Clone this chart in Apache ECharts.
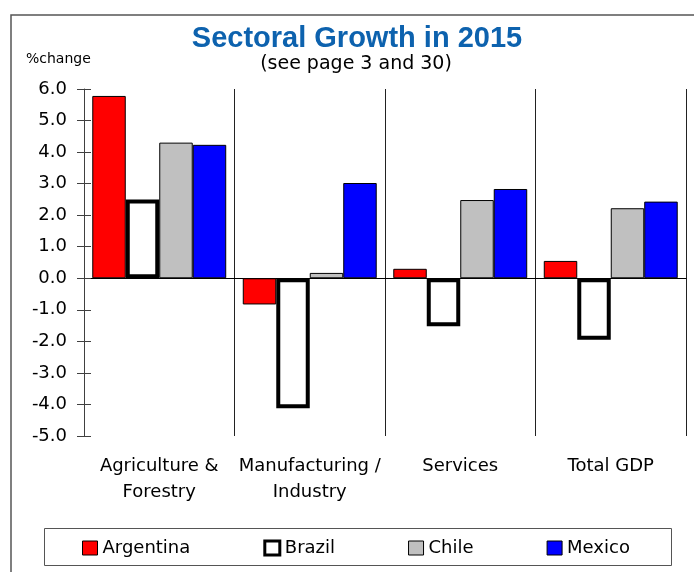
<!DOCTYPE html>
<html>
<head>
<meta charset="utf-8">
<script src="https://cdn.jsdelivr.net/npm/echarts@6/dist/echarts.min.js"></script>
<style>
html,body{margin:0;padding:0;background:#fff;}
#chart{width:694px;height:572px;}
</style>
</head>
<body>
<div id="chart"></div>
<script>
const categories = ['Agriculture &\nForestry', 'Manufacturing /\nIndustry', 'Services', 'Total GDP'];
const argentina = [5.78, -0.83, 0.30, 0.55];
const brazil = [2.50, -4.12, -1.52, -1.95];
const chile = [4.30, 0.17, 2.48, 2.22];
const mexico = [4.23, 3.02, 2.83, 2.43];
const yTicks = { min: -5, max: 6, interval: 1 };
const titleText = 'Sectoral Growth in 2015';
const subtitleText = '(see page 3 and 30)';
const unitText = '%change';

const FONT = 'DejaVu Sans';
const chart = echarts.init(document.getElementById('chart'), null, { renderer: 'canvas' });

const option = {
  animation: false,
  backgroundColor: '#ffffff',
  grid: { left: 84, right: 8, top: 89, bottom: 136, containLabel: false },
  graphic: [
    { type: 'rect', shape: { x: 11, y: 15, width: 720, height: 620 },
      style: { fill: 'none', stroke: '#555', lineWidth: 1.5 }, silent: true },
    { type: 'text', x: 357, y: 38.5,
      style: { text: titleText, font: 'bold 29px "Liberation Sans", Arial, sans-serif', fill: '#0D62AE', align: 'center', verticalAlign: 'middle' } },
    { type: 'text', x: 356, y: 64.5,
      style: { text: subtitleText, font: '19px "DejaVu Sans", sans-serif', fill: '#000', align: 'center', verticalAlign: 'middle' } },
    { type: 'text', x: 26, y: 59.5,
      style: { text: unitText, font: '14px "DejaVu Sans", sans-serif', fill: '#000', align: 'left', verticalAlign: 'middle' } },
    { type: 'rect', shape: { x: 44.5, y: 528.5, width: 627, height: 37 },
      style: { fill: 'none', stroke: '#555', lineWidth: 1 }, silent: true }
  ],
  legend: {
    left: 82, top: 539, padding: 0, itemGap: 73, itemWidth: 15, itemHeight: 14,
    icon: 'rect',
    textStyle: { fontFamily: FONT, fontSize: 18, color: '#000' },
    data: [
      { name: 'Argentina', itemStyle: { borderWidth: 1, borderColor: '#000' } },
      { name: 'Brazil', itemStyle: { borderWidth: 3, borderColor: '#000' } },
      { name: 'Chile', itemStyle: { borderWidth: 1, borderColor: '#000' } },
      { name: 'Mexico', itemStyle: { borderWidth: 1, borderColor: '#000' } }
    ]
  },
  xAxis: [
    {
      type: 'category', data: categories, position: 'bottom',
      axisLine: { show: false, onZero: false },
      axisTick: { show: false },
      splitLine: { show: true, lineStyle: { color: '#222', width: 1 } },
      axisLabel: { interval: 0, margin: 17, fontFamily: FONT, fontSize: 18, lineHeight: 26, color: '#000' }
    },
    {
      type: 'category', data: categories, position: 'bottom',
      axisLine: { show: true, onZero: true, lineStyle: { color: '#000', width: 1 } },
      axisTick: { show: false }, axisLabel: { show: false }, splitLine: { show: false }
    }
  ],
  yAxis: [
    {
      type: 'value', min: yTicks.min, max: yTicks.max, interval: yTicks.interval,
      axisLine: { show: true, lineStyle: { color: '#404040', width: 1 } },
      axisTick: { show: true, length: 7, lineStyle: { color: '#404040' } },
      splitLine: { show: false },
      axisLabel: { margin: 17, fontFamily: FONT, fontSize: 18, color: '#000', formatter: v => v.toFixed(1) }
    },
    {
      type: 'value', min: yTicks.min, max: yTicks.max, interval: yTicks.interval, position: 'left',
      axisLine: { show: false, onZero: false },
      axisTick: { show: true, inside: true, length: 7, lineStyle: { color: '#404040' } },
      splitLine: { show: false }, axisLabel: { show: false }
    }
  ],
  series: [
    { name: 'Argentina', type: 'bar', data: argentina, barGap: '0%', barCategoryGap: '11%',
      itemStyle: { color: '#FF0000', borderColor: '#000', borderWidth: 1 } },
    { name: 'Brazil', type: 'bar', data: brazil, barGap: '0%', barCategoryGap: '11%',
      itemStyle: { color: '#FFFFFF', borderColor: '#000', borderWidth: 4 } },
    { name: 'Chile', type: 'bar', data: chile, barGap: '0%', barCategoryGap: '11%',
      itemStyle: { color: '#C0C0C0', borderColor: '#000', borderWidth: 1 } },
    { name: 'Mexico', type: 'bar', data: mexico, barGap: '0%', barCategoryGap: '11%',
      itemStyle: { color: '#0000FF', borderColor: '#000', borderWidth: 1 } }
  ]
};
chart.setOption(option);
</script>
</body>
</html>
